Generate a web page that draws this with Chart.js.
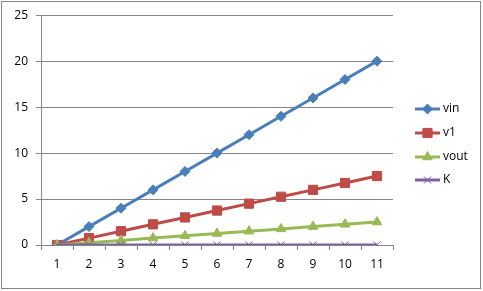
<!DOCTYPE html>
<html><head><meta charset="utf-8">
<script src="https://cdn.jsdelivr.net/npm/chart.js@4/dist/chart.umd.min.js"></script>
<style>html,body{margin:0;padding:0;background:#fff}#w{width:483px;height:291px;position:relative}</style>
</head><body><div id="w"><canvas id="c" width="483" height="291"></canvas></div>
<script>
const categories = ['1','2','3','4','5','6','7','8','9','10','11'];
const vin  = [0,2,4,6,8,10,12,14,16,18,20];
const v1   = [0,0.75,1.5,2.25,3,3.75,4.5,5.25,6,6.75,7.5];
const vout = [0,0.25,0.5,0.75,1,1.25,1.5,1.75,2,2.25,2.5];
const K    = [0,0,0,0,0,0,0,0,0,0,0];
const seriesNames = ['vin','v1','vout','K'];
const yTicks = [0,5,10,15,20,25];

const FONT = '"Open Sans", Lato, sans-serif';
const GRID = '#868686';
const styles = [
  {c:'#4A7EBB', ps:'rectRot', r:5, bw:1},
  {c:'#BE4B48', ps:'rect', r:6.5, bw:1},
  {c:'#98B954', ps:'triangle', r:5.5, bw:1},
  {c:'#7D60A0', ps:'crossRot', r:5, bw:1}
];
const data = [vin, v1, vout, K];

const legendPlugin = {
  id:'customLegend',
  afterDraw(chart){
    const ctx = chart.ctx;
    ctx.save();
    ctx.strokeStyle = GRID; ctx.lineWidth = 1;
    ctx.strokeRect(1.5,1.5,479,287);
    const x0 = 415, x1 = 440, ys = [109,133,157,180];
    chart.data.datasets.forEach((ds,i)=>{
      const y = ys[i];
      ctx.strokeStyle = ds.borderColor; ctx.lineWidth = 3;
      ctx.beginPath(); ctx.moveTo(x0,y); ctx.lineTo(x1,y); ctx.stroke();
      ctx.fillStyle = ds.borderColor; ctx.strokeStyle = ds.borderColor; ctx.lineWidth = 1;
      Chart.helpers.drawPoint(ctx,{pointStyle:ds.pointStyle, radius:ds.pointRadius, borderWidth:1, rotation:0}, (x0+x1)/2, y);
      ctx.fillStyle = '#000'; ctx.font = '12px ' + FONT; ctx.textBaseline='middle'; ctx.textAlign='left';
      ctx.fillText(ds.label, x1+3, y);
    });
    ctx.restore();
  }
};

new Chart(document.getElementById('c'), {
  type:'line',
  data:{
    labels: categories,
    datasets: data.map((d,i)=>({
      label: seriesNames[i], data: d, order: 3-i,
      borderColor: styles[i].c, backgroundColor: styles[i].c,
      pointBackgroundColor: styles[i].c, pointBorderColor: styles[i].c,
      borderWidth: 3, pointStyle: styles[i].ps, pointRadius: styles[i].r,
      pointBorderWidth: styles[i].bw, tension:0
    }))
  },
  options:{
    responsive:false, animation:false, devicePixelRatio:1,
    layout:{padding:{left:0, top:15, right:90, bottom:0}},
    plugins:{legend:{display:false}, tooltip:{enabled:false}},
    scales:{
      x:{
        offset:true,
        grid:{offset:true, drawOnChartArea:false, tickLength:5, color:GRID},
        border:{color:GRID},
        ticks:{color:'#000', font:{family:FONT, size:12}, padding:7, maxRotation:0},
        afterFit(a){ a.height = 46; }
      },
      y:{
        min:0, max:25,
        afterBuildTicks(a){ a.ticks = yTicks.map(v=>({value:v})); },
        grid:{color:GRID, tickLength:5},
        border:{color:GRID},
        ticks:{color:'#000', font:{family:FONT, size:12}, padding:8},
        afterFit(a){ a.width = 41; }
      }
    }
  },
  plugins:[legendPlugin]
});
</script></body></html>
